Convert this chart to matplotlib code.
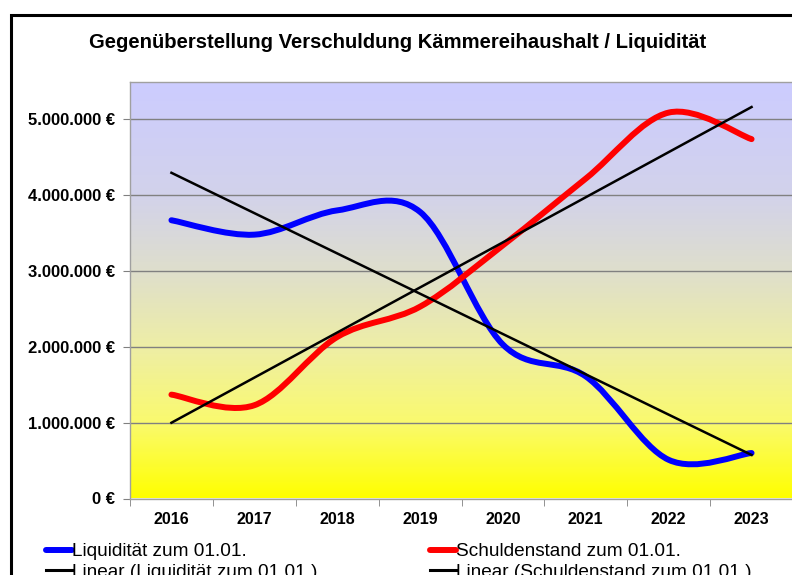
import matplotlib
matplotlib.use("Agg")
import matplotlib.pyplot as plt
import numpy as np
from matplotlib.path import Path
from matplotlib.patches import PathPatch, Rectangle
from matplotlib.lines import Line2D
from matplotlib.colors import LinearSegmentedColormap
from matplotlib.ticker import FuncFormatter, FixedLocator

plt.rcParams['font.family'] = ['Liberation Sans', 'DejaVu Sans']

# Werte (in Euro)
years = ['2016', '2017', '2018', '2019', '2020', '2021', '2022', '2023']
liquiditaet = [3670000, 3480000, 3800000, 3780000, 2030000, 1610000, 510000, 600000]
schulden = [1370000, 1230000, 2130000, 2530000, 3340000, 4220000, 5090000, 4740000]

title = 'Gegenüberstellung Verschuldung Kämmereihaushalt / Liquidität'
lab_liq = 'Liquidität zum 01.01.'
lab_sch = 'Schuldenstand zum 01.01.'
lab_lin_liq = 'Linear (Liquidität zum 01.01.)'
lab_lin_sch = 'Linear (Schuldenstand zum 01.01.)'


def smooth_path(xs, ys):
    # geglättete Linie wie in Excel: Bezier-Segmente durch die Datenpunkte
    p = np.column_stack([xs, ys]).astype(float)
    n = len(p)
    verts = [p[0]]
    codes = [Path.MOVETO]
    for i in range(n - 1):
        prev = p[i - 1] if i > 0 else p[i]
        nxt = p[i + 2] if i + 2 < n else p[i + 1]
        c1 = p[i] + (p[i + 1] - prev) / 6.0
        c2 = p[i + 1] - (nxt - p[i]) / 6.0
        verts += [c1, c2, p[i + 1]]
        codes += [Path.CURVE4] * 3
    return Path(verts, codes)


fig = plt.figure(figsize=(7.92, 5.75), dpi=100)
ax = fig.add_axes([130 / 792, 76.5 / 575, 663 / 792, 417 / 575])

x = np.arange(len(years))
ymax = 5500000

# Hintergrund-Verlauf (unten gelb, oben lila)
cmap = LinearSegmentedColormap.from_list('bg', [
    (0.0, '#FFFF00'),
    (0.18, '#FAFA6E'),
    (0.36, '#EEEEA5'),
    (0.55, '#DEDECD'),
    (0.73, '#D2D2EB'),
    (1.0, '#CCCCFF'),
])
grad = np.linspace(1, 0, 256).reshape(-1, 1)
ax.imshow(grad, extent=[-0.5, len(years) - 0.5, 0, ymax], aspect='auto',
          cmap=cmap, zorder=0)

for vals, col in [(liquiditaet, '#0000FF'), (schulden, '#FF0000')]:
    patch = PathPatch(smooth_path(x, vals), facecolor='none', edgecolor=col,
                      lw=4.3, capstyle='round', joinstyle='round', zorder=3)
    ax.add_patch(patch)
    # lineare Trendlinie
    k, d = np.polyfit(x, vals, 1)
    ax.plot([x[0], x[-1]], [d, k * x[-1] + d], color='black', lw=1.8, zorder=4)

ax.set_xlim(-0.5, len(years) - 0.5)
ax.set_ylim(0, ymax)

ax.yaxis.set_major_locator(FixedLocator([0, 1e6, 2e6, 3e6, 4e6, 5e6]))
ax.yaxis.set_major_formatter(FuncFormatter(lambda v, pos: f"{int(v):,}".replace(",", ".") + " €"))
ax.grid(axis='y', color='#808080', lw=1.0)
ax.set_axisbelow(True)

ax.set_xticks(x)
ax.set_xticklabels(years)
ax.set_xticks(np.arange(-0.5, len(years)), minor=True)
ax.tick_params(axis='x', which='major', length=0, pad=10)
ax.tick_params(axis='x', which='minor', length=5, color='#808080')
ax.tick_params(axis='y', length=5, color='#808080', pad=6)
for lbl in ax.get_xticklabels():
    lbl.set_fontsize(11.5)
    lbl.set_fontweight('bold')
for lbl in ax.get_yticklabels():
    lbl.set_fontsize(12)
    lbl.set_fontweight('bold')

for s in ax.spines.values():
    s.set_color('#A0A0A0')
    s.set_linewidth(1.0)

fig.text(0.502, 1 - 42 / 575, title, ha='center', va='center',
         fontsize=14.6, fontweight='bold')

handles = [
    Line2D([], [], color='#0000FF', lw=4.3, solid_capstyle='round'),
    Line2D([], [], color='black', lw=2.2),
    Line2D([], [], color='#FF0000', lw=4.3, solid_capstyle='round'),
    Line2D([], [], color='black', lw=2.2),
]
labels = [lab_liq, lab_lin_liq, lab_sch, lab_lin_sch]
fig.legend(handles, labels, ncol=2, loc='upper left',
           bbox_to_anchor=(46 / 792, 1 - 543 / 575), frameon=False,
           fontsize=13.7, handlelength=1.38, handletextpad=0.0,
           columnspacing=5.9, labelspacing=0.18, borderpad=0, borderaxespad=0)

# schwarzer Rahmen um das Diagramm (rechts und unten abgeschnitten)
fig.patches.append(Rectangle((11 / 792, -0.2), 1.2, 1.2 - 14.5 / 575,
                             transform=fig.transFigure, fill=False,
                             edgecolor='black', lw=2.2, zorder=10))

fig.savefig('out.png', dpi=100)
